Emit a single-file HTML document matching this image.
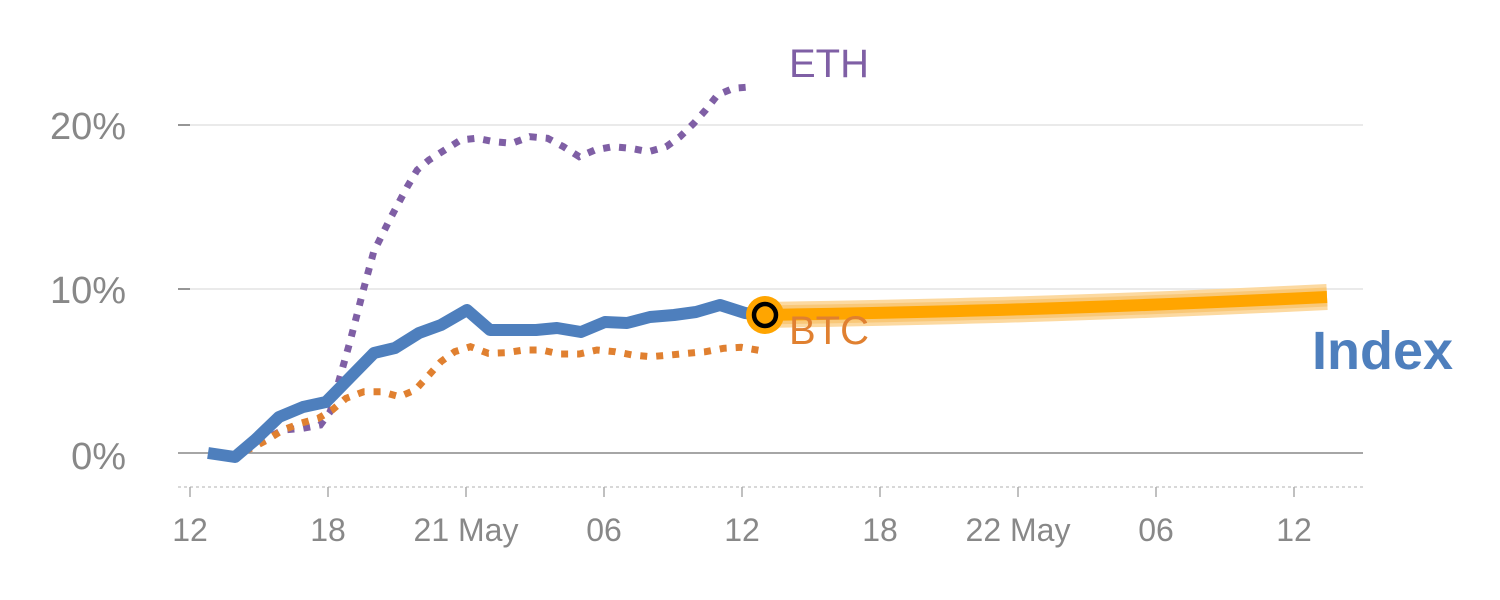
<!DOCTYPE html>
<html><head><meta charset="utf-8"><style>
html,body{margin:0;padding:0;background:#fff;width:1500px;height:600px;overflow:hidden}
text{font-family:"Liberation Sans",sans-serif}
</style></head><body>
<svg id="s" width="1500" height="600" viewBox="0 0 1500 600" xmlns="http://www.w3.org/2000/svg">
<line x1="178" y1="125" x2="1363" y2="125" stroke="#e3e3e3" stroke-width="1.5"/>
<line x1="178" y1="289" x2="1363" y2="289" stroke="#e3e3e3" stroke-width="1.5"/>
<line x1="178" y1="125" x2="190" y2="125" stroke="#777" stroke-width="1.5"/>
<line x1="178" y1="289" x2="190" y2="289" stroke="#777" stroke-width="1.5"/>
<line x1="178" y1="453" x2="1363" y2="453" stroke="#888" stroke-width="1.5"/>
<line x1="178" y1="487" x2="1365" y2="487" stroke="#ccc" stroke-width="1.5" stroke-dasharray="3,3"/>
<g stroke="#aaa" stroke-width="1.5">
<line x1="190" y1="487" x2="190" y2="497"/><line x1="328" y1="487" x2="328" y2="497"/><line x1="466" y1="487" x2="466" y2="497"/><line x1="604" y1="487" x2="604" y2="497"/><line x1="742" y1="487" x2="742" y2="497"/><line x1="880" y1="487" x2="880" y2="497"/><line x1="1018" y1="487" x2="1018" y2="497"/><line x1="1156" y1="487" x2="1156" y2="497"/><line x1="1294" y1="487" x2="1294" y2="497"/>
</g>
<g fill="#888" font-size="38" text-anchor="end">
<text x="126" y="139">20%</text><text x="126" y="303">10%</text><text x="126" y="469">0%</text>
</g>
<g fill="#888" font-size="32" text-anchor="middle">
<text x="190" y="541">12</text><text x="328" y="541">18</text><text x="466" y="541">21 May</text><text x="604" y="541">06</text><text x="742" y="541">12</text><text x="880" y="541">18</text><text x="1018" y="541">22 May</text><text x="1156" y="541">06</text><text x="1294" y="541">12</text>
</g>
<path d="M765,315 C950,312 1100,308 1327,297" stroke="#fcd9a0" stroke-width="26" fill="none"/>
<path d="M765,315 C950,312 1100,308 1327,297" stroke="#f9c878" stroke-width="19" fill="none"/>
<path d="M765,315 C950,312 1100,308 1327,297" stroke="#ffa500" stroke-width="12" fill="none"/>
<polyline id="eth" fill="none" stroke="#7f5fa5" stroke-width="7" stroke-dasharray="7,9"/>
<polyline id="btc" fill="none" stroke="#e08030" stroke-width="7" stroke-dasharray="7,9"/>
<polyline id="idx" fill="none" stroke="#4e7fbd" stroke-width="12" stroke-linejoin="round"/>
<circle cx="765" cy="315" r="19" fill="#ffa500"/>
<circle cx="765" cy="315" r="11" fill="#ffa500" stroke="#000" stroke-width="4.5"/>
<text x="789" y="77" fill="#7f5fa5" font-size="40">ETH</text>
<text x="789" y="344" fill="#e08030" font-size="40">BTC</text>
<text x="1312" y="369" fill="#4e7fbd" font-size="54" font-weight="bold">Index</text>
</svg>
<script>
function cv(a){return a.map(p=>(180+p[0]/2.53).toFixed(1)+","+(60+p[1]/3).toFixed(1)).join(" ");}
var eth=[[85,1180],[140,1185],[180,1160],[220,1135],[260,1110],[310,1105],[355,1095],[380,1055],[405,950],[430,845],[465,685],[490,575],[530,480],[575,380],[600,330],[630,300],[670,270],[710,240],[750,235],[795,245],[840,250],[885,230],[930,235],[970,260],[1010,290],[1050,270],[1095,260],[1140,265],[1185,275],[1230,260],[1265,230],[1300,190],[1330,150],[1360,105],[1400,85],[1450,80]];
var btc=[[85,1180],[140,1185],[180,1165],[220,1140],[260,1110],[305,1090],[350,1075],[385,1050],[420,1015],[465,995],[510,995],[555,1010],[595,990],[630,945],[660,905],[695,875],[735,860],[780,880],[825,878],[870,870],[915,870],[960,882],[1010,882],[1055,870],[1100,875],[1145,885],[1190,890],[1240,885],[1285,880],[1330,875],[1375,865],[1420,862],[1470,872]];
document.getElementById("eth").setAttribute("points",cv(eth));
document.getElementById("btc").setAttribute("points",cv(btc));
var ix=[[208,453],[235,457],[255,440],[279,417],[303,407],[326,402],[374,353],[395,348],[419,333],[441,325],[467,310],[490,330],[536,330],[557,328],[581,332],[605,322],[627,323],[650,317],[674,315],[696,312],[720,305],[745,313],[764,315]];
document.getElementById("idx").setAttribute("points",ix.map(p=>p.join(",")).join(" "));
</script>
</body></html>
